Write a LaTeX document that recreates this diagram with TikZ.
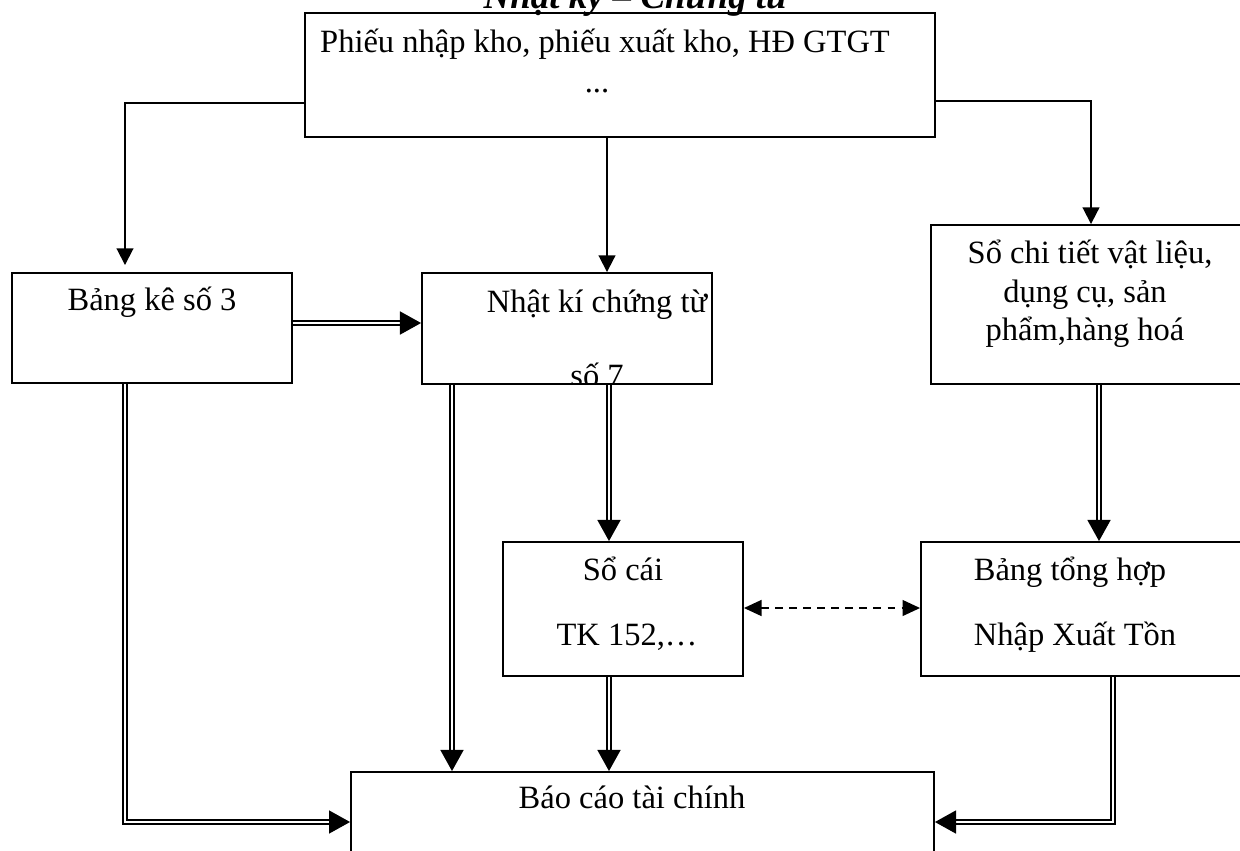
\documentclass[tikz,border=0pt]{standalone}
\usepackage{fontspec}
\setmainfont{Liberation Serif}
\usetikzlibrary{arrows.meta,positioning}

\begin{document}
\begin{tikzpicture}[x=0.02cm, y=-0.02cm,
    font=\fontsize{18.5}{22}\selectfont,
    box/.style={draw, line width=1.1pt, inner sep=0pt},
    txt/.style={inner sep=0pt, anchor=base},
    one/.style={line width=1.1pt, -{Triangle[length=9.5pt,width=9.5pt]}},
    two/.style={double, line width=1.2pt, double distance=1.3pt,
      -{Triangle[length=12pt,width=13pt]}},
    both/.style={dash pattern=on 4.5pt off 3.5pt, line width=1.1pt,
      {Triangle[length=10pt,width=9pt]}-{Triangle[length=10pt,width=9pt]}}]
  % page 1240 x 850 px, y runs downwards
  \useasboundingbox (0,0) rectangle (1240,850);
  \clip (0,0) rectangle (1240,850);
  \node[txt, font=\fontsize{21}{24}\selectfont\bfseries\itshape] (title) at (636,8) {Nhật ký – Chứng từ};
  % boxes
  \node[box, minimum width=12.6cm, minimum height=2.48cm] (top) at (620,75) {};
  \node[box, minimum width=5.6cm, minimum height=2.2cm] (bk) at (152,328) {};
  \node[box, minimum width=5.8cm, minimum height=2.22cm] (nk) at (567,328.5) {};
  \node[box, minimum width=6.58cm, minimum height=3.18cm] (sct) at (1095,304.5) {};
  \node[box, minimum width=4.8cm, minimum height=2.68cm] (sc) at (623,609) {};
  \node[box, minimum width=6.78cm, minimum height=2.68cm] (bth) at (1090.5,609) {};
  \node[box, minimum width=11.66cm, minimum height=2.56cm] (bc) at (642.5,836) {};
  % texts
  \node[txt] (top1) at (605,52) {Phiếu nhập kho, phiếu xuất kho, HĐ GTGT};
  \node[txt] (top2) at (597,92) {...};
  \node[txt] (bk1) at (152,310) {Bảng kê số 3};
  \node[txt] (nk1) at (597,312) {Nhật kí chứng từ};
  \begin{scope}
    \clip (nk.north west) rectangle (nk.south east);
    \node[txt] (nk2) at (597,386) {số 7};
  \end{scope}
  \node[txt] (sct1) at (1090,263) {Sổ chi tiết vật liệu,};
  \node[txt] (sct2) at (1085,302) {dụng cụ, sản};
  \node[txt] (sct3) at (1085,340) {phẩm,hàng hoá};
  \node[txt] (sc1) at (623,580) {Sổ cái};
  \node[txt] (sc2) at (627,645) {TK 152,…};
  \node[txt] (bth1) at (1070,580) {Bảng tổng hợp};
  \node[txt] (bth2) at (1075,645) {Nhập Xuất Tồn};
  \node[txt] (bc1) at (632,808) {Báo cáo tài chính};
  % bends and columns of the connectors
  \coordinate (xa) at (125,103);
  \coordinate (xb) at (1091,101);
  \coordinate (xc) at (607,0);
  \coordinate (xd) at (452,0);
  \coordinate (xe) at (609,0);
  \coordinate (xg) at (1099,0);
  \coordinate (xh) at (1113,822);
  \coordinate (xi) at (125,822);
  \coordinate (ya) at (0,323);
  \coordinate (yb) at (0,608);
  % single arrows from the vouchers
  \draw[one, shorten >=4pt] (top.west |- xa) -- (xa) -- (xa |- bk.north);
  \draw[one] (top.south -| xc) -- (nk.north -| xc);
  \draw[one] (top.east |- xb) -- (xb) -- (xb |- sct.north);
  % double arrows
  \draw[two] (bk.east |- ya) -- (nk.west |- ya);
  \draw[two] (bk.south -| xi) -- (xi) -- (xi -| bc.west);
  \draw[two] (nk.south -| xd) -- (bc.north -| xd);
  \draw[two] (nk.south -| xe) -- (sc.north -| xe);
  \draw[two] (sc.south -| xe) -- (bc.north -| xe);
  \draw[two] (sct.south -| xg) -- (bth.north -| xg);
  \draw[two] (bth.south -| xh) -- (xh) -- (xh -| bc.east);
  \draw[both] (sc.east |- yb) -- (bth.west |- yb);
\end{tikzpicture}
\end{document}
